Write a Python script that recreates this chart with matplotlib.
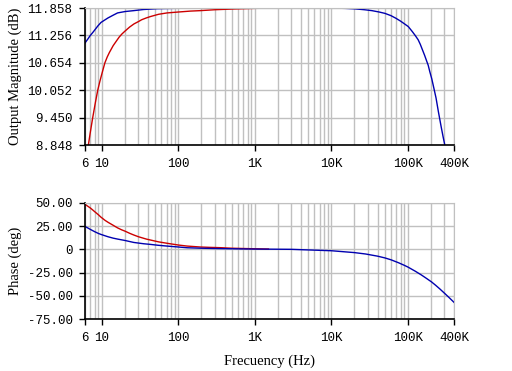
import numpy as np
import matplotlib.pyplot as plt
from matplotlib.ticker import FixedLocator, FixedFormatter, NullFormatter

# red trace, magnitude (dB)
red_mag_f = [6.3, 6.64, 7.0, 7.57, 8.2, 8.8, 9.4, 10, 10.9, 11.7, 12.5, 14, 15.4, 16.8, 18.3,
             20, 23, 26.3, 30, 33, 38, 43, 55, 71, 100, 143, 193, 300, 520, 1000, 1500]
red_mag = [8.62, 8.848, 9.10, 9.45, 9.78, 10.05, 10.25, 10.42, 10.65, 10.78, 10.88, 11.03,
           11.13, 11.22, 11.29, 11.35, 11.44, 11.51, 11.56, 11.60, 11.64, 11.67, 11.72, 11.75,
           11.77, 11.79, 11.80, 11.82, 11.836, 11.85, 11.855]

# blue trace, magnitude (dB)
blue_mag_f = [6, 6.5, 7, 7.5, 8, 8.8, 9.7, 11, 12, 14, 16, 20, 26, 35, 53, 100, 200, 1000,
              5000, 10000, 15000, 20000, 27000, 33800, 42000, 50000, 60000, 70000, 80000,
              90000, 101000, 114000, 125000, 136000, 145000, 153000, 165000, 175000, 184000,
              193000, 205000, 218000, 233000, 250000, 271000, 288000, 303000, 315000]
blue_mag = [11.09, 11.17, 11.25, 11.31, 11.37, 11.46, 11.54, 11.60, 11.64, 11.70, 11.75,
            11.78, 11.80, 11.825, 11.843, 11.852, 11.856, 11.858, 11.858, 11.856, 11.85,
            11.84, 11.82, 11.80, 11.77, 11.74, 11.69, 11.63, 11.57, 11.51, 11.45, 11.34,
            11.25, 11.16, 11.06, 10.96, 10.82, 10.70, 10.60, 10.46, 10.30, 10.10, 9.88,
            9.58, 9.26, 9.03, 8.85, 8.65]

# red trace, phase (deg)
red_ph_f = [6, 6.5, 7, 7.5, 8, 9, 9.7, 11, 12, 14, 16, 18, 20, 23, 26, 30, 33, 38, 43, 55,
            71, 85, 100, 130, 193, 260, 350, 500, 1000, 1500]
red_ph = [48.3, 46.3, 44.5, 42.5, 40.5, 37.0, 34.5, 31.0, 29.0, 25.8, 23.0, 21.0, 19.5,
          17.2, 15.4, 13.5, 12.5, 11.0, 10.0, 8.0, 6.5, 5.5, 4.6, 3.5, 2.5, 2.1, 1.8, 1.2,
          0.6, 0.3]

# blue trace, phase (deg)
blue_ph_f = [6, 6.5, 7, 8, 9, 9.7, 11, 12, 14, 16, 20, 26, 35, 43, 55, 71, 100, 130, 200,
             300, 600, 1000, 3000, 10000, 20000, 28000, 40000, 50000, 60000, 76000, 90000,
             100000, 125000, 150000, 175000, 204000, 230000, 260000, 300000, 340000, 372000,
             400000]
blue_ph = [24.5, 23.0, 21.5, 19.0, 17.0, 16.0, 14.5, 13.5, 12.0, 11.0, 9.5, 7.4, 6.0, 5.3,
           4.3, 3.5, 2.5, 1.7, 1.2, 0.9, 0.5, 0.3, 0.0, -1.5, -3.5, -5.0, -7.3, -9.2, -11.2,
           -14.5, -17.2, -19.0, -23.5, -27.5, -31.2, -35.0, -38.5, -42.3, -47.0, -51.2,
           -54.3, -56.8]

x_ticks = [6, 10, 100, 1000, 10000, 100000, 400000]
x_labels = ['6', '10', '100', '1K', '10K', '100K', '400K']
mag_ticks = [8.848, 9.450, 10.052, 10.654, 11.256, 11.858]
ph_ticks = [-75, -50, -25, 0, 25, 50]
ph_labels = ['-75.00', '-50.00', '-25.00', '0', '25.00', '50.00']

RED = '#cc0000'
BLUE = '#0000b0'
GRID = '#c0c0c0'
mono = 'Liberation Mono'
serif = 'Liberation Serif'

fig = plt.figure(figsize=(5.12, 3.71), dpi=100)
ax1 = fig.add_axes([85/512, 1-145/371, 369/512, 137/371])
ax2 = fig.add_axes([85/512, 1-319.3/371, 369/512, 116.6/371])

minor = [m * 10**d for d in range(0, 6) for m in range(2, 10)]
minor = [v for v in minor if 6 < v < 400000]

for ax in (ax1, ax2):
    ax.set_xscale('log')
    ax.set_xlim(6, 400000)
    ax.xaxis.set_major_locator(FixedLocator(x_ticks))
    ax.xaxis.set_major_formatter(FixedFormatter(x_labels))
    ax.xaxis.set_minor_locator(FixedLocator(minor))
    ax.xaxis.set_minor_formatter(NullFormatter())
    ax.grid(True, which='both', axis='x', color=GRID, lw=1)
    ax.grid(True, which='major', axis='y', color=GRID, lw=1)
    ax.set_axisbelow(True)
    ax.spines['top'].set_color(GRID)
    ax.spines['right'].set_color(GRID)
    ax.spines['left'].set_linewidth(1.2)
    ax.spines['bottom'].set_linewidth(1.2)
    ax.tick_params(which='major', direction='out', length=4, width=1, pad=5,
                   top=False, right=False)
    ax.tick_params(which='minor', length=0)
    for t in ax.get_xticklabels() + ax.get_yticklabels():
        t.set_fontfamily(mono)
        t.set_fontsize(9)

ax1.plot(red_mag_f, red_mag, color=RED, lw=1)
ax1.plot(blue_mag_f, blue_mag, color=BLUE, lw=1)
ax1.set_ylim(8.848, 11.858)
ax1.set_yticks(mag_ticks)
ax1.set_yticklabels(['%.3f' % v for v in mag_ticks], fontfamily=mono, fontsize=9)
ax1.set_ylabel('Output Magnitude (dB)', fontfamily=serif, fontsize=10.5, va='center')
ax1.yaxis.set_label_coords(-0.19, 0.5)

ax2.plot(red_ph_f, red_ph, color=RED, lw=1)
ax2.plot(blue_ph_f, blue_ph, color=BLUE, lw=1)
ax2.set_ylim(-75, 50)
ax2.set_yticks(ph_ticks)
ax2.set_yticklabels(ph_labels, fontfamily=mono, fontsize=9)
ax2.set_ylabel('Phase (deg)', fontfamily=serif, fontsize=10.5, va='center')
ax2.yaxis.set_label_coords(-0.19, 0.5)
ax2.set_xlabel('Frecuency (Hz)', fontfamily=serif, fontsize=10.5, labelpad=8)

fig.savefig('out.png', dpi=100)
